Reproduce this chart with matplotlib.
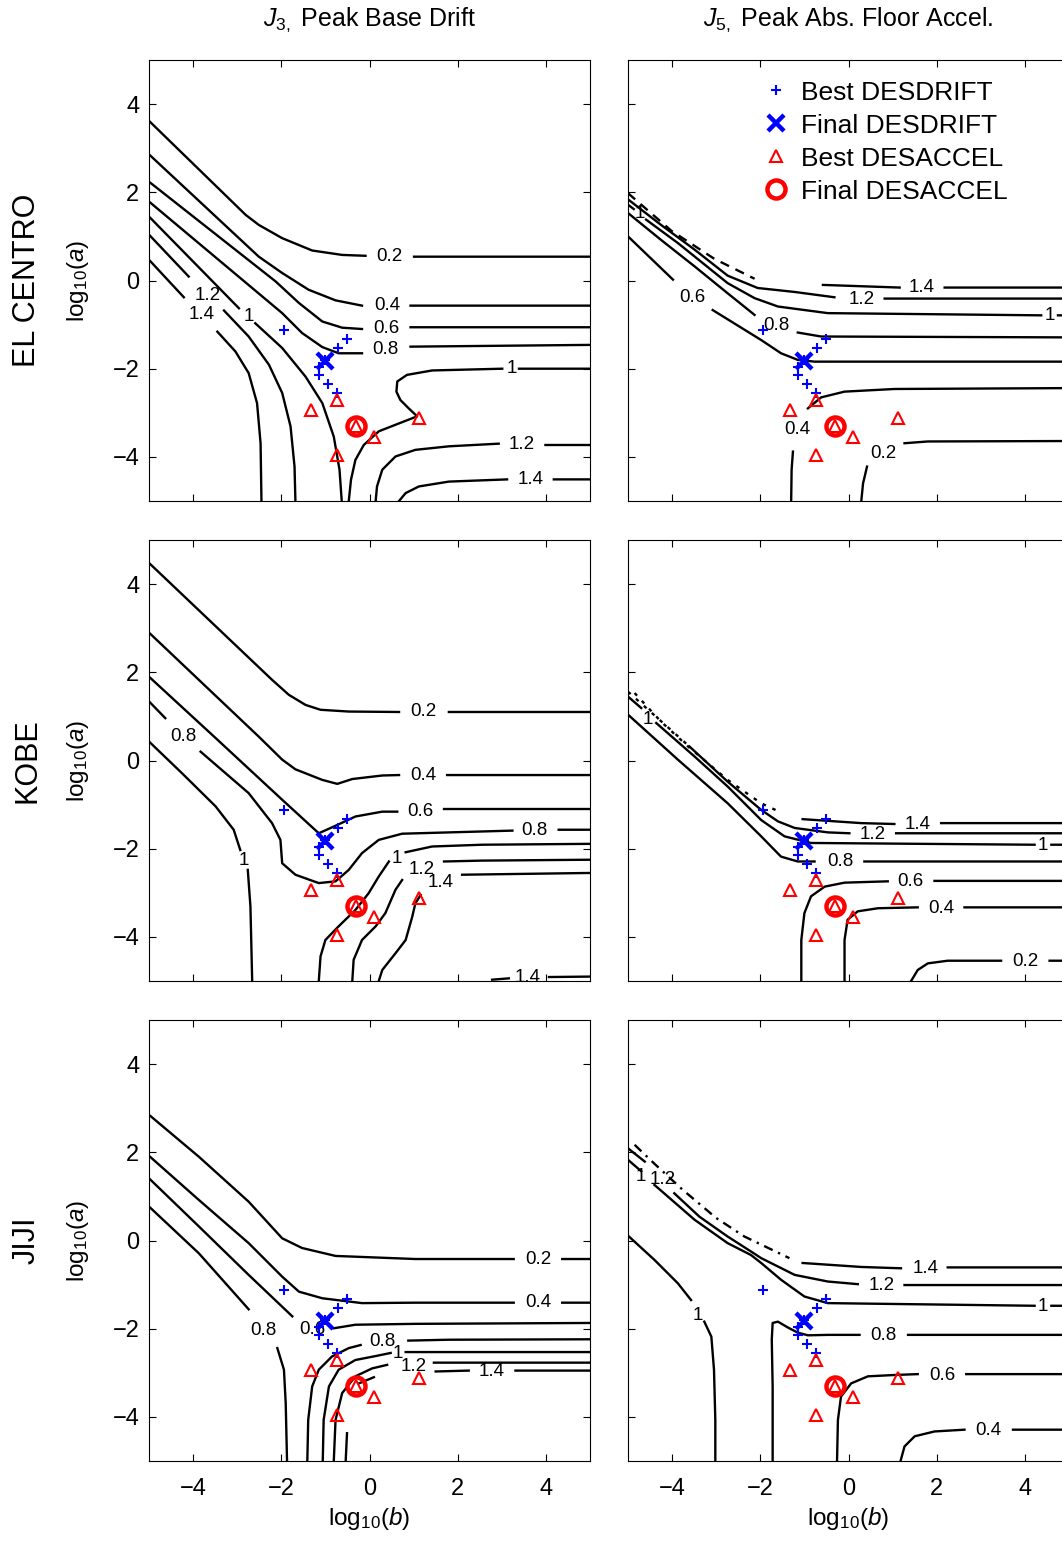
import numpy as np
import matplotlib
matplotlib.use("Agg")
import matplotlib.pyplot as plt

plt.rcParams['font.family'] = ['Liberation Sans', 'DejaVu Sans']
plt.rcParams['mathtext.fontset'] = 'custom'
plt.rcParams['mathtext.rm'] = 'Liberation Sans'
plt.rcParams['mathtext.it'] = 'Liberation Sans:italic'

nan = np.nan

# design points (log10 b, log10 a), same in every panel
best_drift_b = [-1.95, -0.52, -0.72, -1.00, -1.14, -1.14, -0.93, -0.73]
best_drift_a = [-1.12, -1.33, -1.52, -1.80, -1.97, -2.14, -2.35, -2.54]
final_drift_b = [-1.00]
final_drift_a = [-1.82]
best_accel_b = [-1.33, -0.73, -0.73, 0.11, 1.12, -0.30]
best_accel_a = [-2.93, -2.71, -3.95, -3.54, -3.12, -3.31]
final_accel_b = [-0.30]
final_accel_a = [-3.30]

# contour lines: (log10 b, log10 a), nan = gap for label
elcentro_j3_lines = [
    ([-5.00, -2.81, -2.51, -1.98, -1.30, -0.62, -0.09, nan, 1.01, 5.00],
     [3.62, 1.49, 1.26, 0.96, 0.68, 0.58, 0.56, nan, 0.54, 0.54]),
    ([-5.00, -2.51, -1.98, -1.38, -0.77, -0.17, nan, 0.93, 5.00],
     [2.86, 0.54, 0.17, -0.21, -0.45, -0.57, nan, -0.57, -0.57]),
    ([-5.00, -2.13, -1.60, -1.07, -0.62, -0.17, nan, 0.93, 5.00],
     [2.24, -0.02, -0.51, -0.93, -1.07, -1.10, nan, -1.06, -1.06]),
    ([-5.00, -1.98, -1.53, -1.07, -0.70, -0.17, nan, 0.93, 5.00],
     [1.79, -0.74, -1.19, -1.51, -1.65, -1.65, nan, -1.50, -1.46]),
    ([-5.00, -2.96, nan, -2.59, -1.98, -1.45, -1.07, -0.81, -0.68, -0.63],
     [1.45, -0.63, nan, -0.97, -1.53, -2.18, -2.78, -3.54, -4.29, -5.00]),
    ([-0.47, -0.42, -0.32, -0.13, 0.21, 0.67, 1.08, 0.89, 0.70, 0.61, 0.63, 0.85, 1.42, 3.01, nan, 3.39, 5.00],
     [-5.00, -4.52, -4.07, -3.73, -3.42, -3.24, -3.08, -2.90, -2.71, -2.52, -2.29, -2.14, -2.04, -2.00, nan, -2.00, -2.00]),
    ([-5.00, -4.10, nan, -3.30, -2.74, -2.28, -1.98, -1.79, -1.70, -1.68],
     [1.04, 0.09, nan, -0.68, -1.27, -1.91, -2.55, -3.31, -4.22, -5.00]),
    ([-5.00, -4.21, nan, -3.45, -3.04, -2.74, -2.55, -2.47, -2.45],
     [0.47, -0.38, nan, -1.16, -1.61, -2.10, -2.78, -3.69, -5.00]),
    ([0.14, 0.17, 0.29, 0.59, 1.04, 1.80, 2.93, nan, 3.99, 5.00],
     [-5.00, -4.67, -4.29, -3.99, -3.84, -3.76, -3.70, nan, -3.73, -3.73]),
    ([0.67, 0.82, 1.12, 1.80, 3.12, nan, 4.18, 5.00],
     [-5.00, -4.82, -4.67, -4.56, -4.51, nan, -4.51, -4.51]),
]
elcentro_j3_broken = []
elcentro_j3_labels = [("0.2", 0.45, 0.54), ("0.4", 0.40, -0.57), ("0.6", 0.38, -1.08),
                      ("0.8", 0.36, -1.57), ("1", -2.74, -0.82), ("1", 3.22, -2.00),
                      ("1.2", -3.68, -0.33), ("1.4", -3.81, -0.78), ("1.2", 3.46, -3.73),
                      ("1.4", 3.65, -4.52)]

elcentro_j5_lines = [
    ([-0.58, 1.16, nan, 2.18, 5.00], [-0.10, -0.16, nan, -0.16, -0.16]),
    ([-5.00, -4.25, -3.49, -2.74, -2.06, -1.22, -0.32, nan, 0.82, 5.00],
     [1.84, 1.26, 0.70, 0.11, -0.17, -0.26, -0.38, nan, -0.41, -0.41]),
    ([-5.00, -4.87, nan, -4.59, -3.87, -2.74, -2.13, -1.60, -0.47, 4.37, nan, 4.75, 5.00],
     [1.72, 1.62, nan, 1.38, 0.85, -0.06, -0.40, -0.59, -0.74, -0.79, nan, -0.79, -0.79]),
    ([-5.00, -4.25, -3.49, -2.74, -2.13, nan, -1.15, -0.62, 5.00],
     [1.53, 0.92, 0.32, -0.29, -0.78, nan, -1.18, -1.27, -1.29]),
    ([-5.00, -3.98, nan, -3.08, -2.74, -1.98, -1.53, -1.15, -0.77, 5.00],
     [1.00, 0.02, nan, -0.67, -0.88, -1.35, -1.65, -1.80, -1.84, -1.84]),
    ([-1.30, -1.29, -1.26, nan, -0.92, -0.62, -0.09, 1.04, 5.00],
     [-5.00, -4.29, -3.88, nan, -2.90, -2.65, -2.52, -2.46, -2.44]),
    ([0.29, 0.33, 0.42, nan, 1.27, 1.80, 5.00],
     [-5.00, -4.60, -4.22, nan, -3.69, -3.65, -3.64]),
]
elcentro_j5_broken = [
    ([-5.00, -4.02, -3.04, -2.13], [1.98, 1.13, 0.49, 0.04]),
]
elcentro_j5_labels = [("1.4", 1.66, -0.16), ("1.2", 0.29, -0.42), ("1", -4.74, 1.51),
                      ("1", 4.56, -0.79), ("0.8", -1.64, -1.02), ("0.6", -3.53, -0.38),
                      ("0.4", -1.15, -3.39), ("0.2", 0.78, -3.92)]

kobe_j3_lines = [
    ([-5.00, -2.21, -1.83, -1.45, -1.11, -0.47, 0.67, nan, 1.80, 5.00],
     [4.48, 1.83, 1.49, 1.26, 1.15, 1.11, 1.10, nan, 1.10, 1.10]),
    ([-5.00, -2.51, -1.98, -1.68, -1.07, -0.73, -0.39, 0.29, 0.67, nan, 1.76, 5.00],
     [2.90, 0.54, 0.02, -0.20, -0.44, -0.53, -0.42, -0.34, -0.33, nan, -0.33, -0.33]),
    ([-5.00, -3.49, -1.98, -1.15, -0.77, -0.32, 0.29, 0.63, nan, 1.69, 5.00],
     [1.90, 0.51, -0.89, -1.65, -1.48, -1.27, -1.16, -1.16, nan, -1.10, -1.10]),
    ([-5.00, -4.63, nan, -3.83, -2.74, -2.21, -2.02, -1.98, -1.68, -1.15, -0.77, -0.47, -0.17, 0.21, 0.74, 3.24, nan, 4.29, 5.00],
     [1.34, 0.96, nan, 0.20, -0.74, -1.42, -1.80, -2.33, -2.59, -2.78, -2.74, -2.48, -2.10, -1.80, -1.66, -1.59, nan, -1.57, -1.57]),
    ([-5.00, -4.25, -3.49, -3.08, -2.93, nan, -2.76, -2.70, -2.66],
     [0.43, -0.29, -1.04, -1.57, -2.03, nan, -2.48, -3.31, -5.00]),
    ([-1.15, -1.11, -1.00, -0.70, -0.32, -0.02, 0.21, 0.44, nan, 0.82, 1.42, 2.55, 5.00],
     [-5.00, -4.44, -4.07, -3.76, -3.39, -3.01, -2.63, -2.29, nan, -2.08, -1.95, -1.91, -1.89]),
    ([-0.39, -0.36, -0.17, 0.14, 0.36, 0.59, 0.74, nan, 1.69, 2.55, 5.00],
     [-5.00, -4.52, -4.07, -3.76, -3.46, -2.93, -2.71, nan, -2.29, -2.27, -2.25]),
    ([0.21, 0.29, 0.59, 0.82, 0.97, 1.04, 1.16, nan, 2.10, 5.00],
     [-5.00, -4.75, -4.37, -4.07, -3.54, -3.24, -3.05, nan, -2.59, -2.55]),
    ([2.78, 3.16, nan, 4.07, 5.00], [-4.97, -4.94, nan, -4.91, -4.90]),
]
kobe_j3_broken = []
kobe_j3_labels = [("0.2", 1.23, 1.10), ("0.4", 1.22, -0.33), ("0.6", 1.16, -1.16),
                  ("0.8", -4.21, 0.54), ("0.8", 3.75, -1.59), ("1", -2.85, -2.27),
                  ("1", 0.63, -2.23), ("1.2", 1.19, -2.48), ("1.4", 1.61, -2.76),
                  ("1.4", 3.58, -4.91)]

kobe_j5_lines = [
    ([-1.04, 0.29, 1.04, nan, 2.10, 5.00], [-1.33, -1.42, -1.44, nan, -1.42, -1.42]),
    ([-3.61, -2.74, -1.98, -1.60, -1.22, -0.47, 0.02, nan, 1.08, 5.00],
     [0.32, -0.48, -1.12, -1.38, -1.53, -1.63, -1.65, nan, -1.65, -1.65]),
    ([-5.00, -4.70, nan, -4.36, -3.49, -2.74, -1.98, -1.45, -0.85, 4.22, nan, 4.60, 5.00],
     [1.45, 1.19, nan, 0.85, 0.09, -0.59, -1.35, -1.72, -1.87, -1.91, nan, -1.91, -1.91]),
    ([-5.00, -3.87, -2.74, -1.98, -1.53, -1.15, -0.77, nan, 0.36, 5.00],
     [1.04, 0.02, -0.97, -1.72, -2.18, -2.29, -2.29, nan, -2.29, -2.29]),
    ([-1.07, -1.07, -1.00, -0.85, -0.54, -0.09, 0.89, nan, 1.95, 5.00],
     [-5.00, -4.07, -3.46, -3.08, -2.86, -2.77, -2.74, nan, -2.73, -2.73]),
    ([-0.09, -0.09, -0.02, 0.21, 0.67, 1.57, nan, 2.63, 5.00],
     [-5.00, -4.07, -3.61, -3.42, -3.35, -3.33, nan, -3.33, -3.33]),
    ([1.42, 1.57, 1.80, 2.25, 3.46, nan, 4.56, 5.00],
     [-5.00, -4.75, -4.60, -4.54, -4.54, nan, -4.54, -4.54]),
]
kobe_j5_broken = [
    ([-4.85, -4.25, -3.64, -2.74, -1.98, -1.53], [1.53, 0.88, 0.32, -0.44, -0.97, -1.18]),
    ([-5.00, -3.61], [1.56, 0.32]),
]
kobe_j5_labels = [("1.4", 1.57, -1.46), ("1.2", 0.55, -1.67), ("1", -4.55, 0.94),
                  ("1", 4.41, -1.93), ("0.8", -0.18, -2.29), ("0.6", 1.41, -2.74),
                  ("0.4", 2.10, -3.35), ("0.2", 4.01, -4.56)]

jiji_j3_lines = [
    ([-5.00, -3.87, -2.74, -1.98, -1.53, -0.77, 1.04, 3.27, nan, 4.37, 5.00],
     [2.85, 1.90, 0.88, 0.05, -0.17, -0.35, -0.42, -0.42, nan, -0.42, -0.42]),
    ([-5.00, -3.87, -2.74, -1.98, -1.60, -1.07, -0.17, 1.04, 3.27, nan, 4.37, 5.00],
     [1.92, 0.92, -0.06, -0.82, -1.16, -1.31, -1.42, -1.41, -1.41, nan, -1.41, -1.41]),
    ([-5.00, -3.87, -2.74, -1.75, nan, -0.81, -0.32, 1.04, 5.00],
     [1.41, 0.32, -0.78, -1.72, nan, -1.99, -1.91, -1.89, -1.87]),
    ([-5.00, -3.87, -2.74, nan, -2.09, -1.94, -1.90, -1.87],
     [0.77, -0.29, -1.56, nan, -2.44, -2.93, -3.69, -5.00]),
    ([-1.41, -1.39, -1.30, -1.15, -0.85, -0.47, -0.20, nan, 0.88, 1.80, 5.00],
     [-5.00, -4.07, -3.31, -2.93, -2.63, -2.44, -2.37, nan, -2.27, -2.25, -2.24]),
    ([-1.06, -1.04, -0.92, -0.70, -0.32, 0.14, 0.48, nan, 0.82, 1.80, 5.00],
     [-5.00, -4.07, -3.31, -2.93, -2.71, -2.62, -2.55, nan, -2.53, -2.53, -2.53]),
    ([-0.81, -0.77, -0.62, -0.32, 0.06, 0.40, nan, 1.46, 5.00],
     [-5.00, -4.07, -3.46, -3.08, -2.90, -2.82, nan, -2.77, -2.77]),
    ([-0.54, -0.51, nan, -0.24, 0.10, nan, 1.50, 2.25, nan, 3.31, 5.00],
     [-5.00, -4.37, nan, -3.24, -3.10, nan, -2.97, -2.95, nan, -2.95, -2.95]),
]
jiji_j3_broken = []
jiji_j3_labels = [("0.2", 3.84, -0.44), ("0.4", 3.82, -1.41), ("0.6", -1.30, -2.01),
                  ("0.8", -2.40, -2.03), ("0.8", 0.30, -2.30), ("1", 0.64, -2.57),
                  ("1.2", 1.00, -2.86), ("1.4", 2.78, -2.97)]

jiji_j5_lines = [
    ([-1.04, 0.29, 1.19, nan, 2.25, 5.00], [-0.51, -0.60, -0.63, nan, -0.61, -0.61]),
    ([-5.00, -4.62, nan, -3.95, -3.38, -2.74, -2.21, -1.98, -1.22, -0.47, 0.21, nan, 1.27, 5.00],
     [2.09, 1.79, nan, 1.07, 0.54, 0.09, -0.25, -0.40, -0.78, -0.93, -0.99, nan, -1.01, -1.01]),
    ([-5.00, -4.70, nan, -4.40, -3.49, -2.74, -2.21, -1.98, -1.53, -1.00, -0.47, 4.22, nan, 4.60, 5.00],
     [1.83, 1.57, nan, 1.26, 0.47, -0.06, -0.33, -0.51, -0.89, -1.27, -1.42, -1.48, nan, -1.48, -1.48]),
    ([-5.00, -4.40, -3.87, -3.57, nan, -3.27, -3.11, -3.05, -3.02, -3.02],
     [0.11, -0.44, -0.97, -1.35, nan, -1.84, -2.18, -2.93, -4.07, -5.00]),
    ([-1.72, -1.72, -1.74, -1.72, -1.60, -1.38, -1.15, -0.92, -0.47, 0.25, nan, 1.35, 5.00],
     [-5.00, -3.31, -2.25, -1.87, -1.84, -1.97, -2.09, -2.15, -2.14, -2.14, nan, -2.14, -2.14]),
    ([-0.26, -0.24, -0.17, 0.06, 0.44, 1.04, 1.57, nan, 2.67, 5.00],
     [-5.00, -4.07, -3.54, -3.24, -3.08, -3.05, -3.03, nan, -3.03, -3.03]),
    ([1.18, 1.27, 1.50, 1.95, 2.63, nan, 3.73, 5.00],
     [-5.00, -4.67, -4.44, -4.33, -4.29, nan, -4.29, -4.29]),
]
jiji_j5_broken = [
    ([-4.85, -4.40, -3.76, -3.00, -2.36, -1.34], [2.17, 1.74, 1.15, 0.51, 0.09, -0.40]),
]
jiji_j5_labels = [("1.4", 1.75, -0.63), ("1.2", 0.76, -1.02), ("1.2", -4.22, 1.39),
                  ("1", -4.70, 1.45), ("1", 4.41, -1.50), ("1", -3.42, -1.69),
                  ("0.8", 0.79, -2.15), ("0.6", 2.12, -3.05), ("0.4", 3.18, -4.31)]

row_names = ["EL CENTRO", "KOBE", "JIJI"]
col_titles = [r"$J_{\mathit{3,}}$ Peak Base Drift", r"$J_{\mathit{5,}}$ Peak Abs. Floor Accel."]
ticks = [-4, -2, 0, 2, 4]

panels = [
    [(elcentro_j3_lines, elcentro_j3_broken, '-', elcentro_j3_labels),
     (elcentro_j5_lines, elcentro_j5_broken, (0, (4, 3)), elcentro_j5_labels)],
    [(kobe_j3_lines, kobe_j3_broken, '-', kobe_j3_labels),
     (kobe_j5_lines, kobe_j5_broken, (0, (1.5, 3)), kobe_j5_labels)],
    [(jiji_j3_lines, jiji_j3_broken, '-', jiji_j3_labels),
     (jiji_j5_lines, jiji_j5_broken, (0, (4, 2.5, 1, 2.5)), jiji_j5_labels)],
]

W, H = 1062, 1543
fig = plt.figure(figsize=(W / 100, H / 100), dpi=100)

col_x = [149, 628]
row_y = [60, 540, 1020]
size = 441

for r in range(3):
    for c in range(2):
        lines, broken, bstyle, labels = panels[r][c]
        ax = fig.add_axes([col_x[c] / W, 1 - (row_y[r] + size) / H, size / W, size / H])
        for b, a in lines:
            ax.plot(b, a, color='k', lw=1.7)
        for b, a in broken:
            ax.plot(b, a, color='k', lw=1.7, ls=bstyle)
        for txt, b, a in labels:
            ax.text(b, a, txt, ha='center', va='center', fontsize=13.5, clip_on=True)

        ax.plot(best_drift_b, best_drift_a, ls='none', marker='+', color='b',
                ms=7.5, mew=1.5, label='Best DESDRIFT', zorder=5)
        ax.plot(final_drift_b, final_drift_a, ls='none', marker='x', color='b',
                ms=12, mew=3.2, label='Final DESDRIFT', zorder=6)
        ax.plot(best_accel_b, best_accel_a, ls='none', marker='^', color='r', mfc='none',
                ms=9, mew=1.5, label='Best DESACCEL', zorder=5)
        ax.plot(final_accel_b, final_accel_a, ls='none', marker='o', color='r', mfc='none',
                ms=13, mew=3.2, label='Final DESACCEL', zorder=6)

        ax.set_xlim(-5, 5)
        ax.set_ylim(-5, 5)
        ax.set_xticks(ticks)
        ax.set_yticks(ticks)
        ax.tick_params(direction='in', top=True, right=True, length=5, width=0.8,
                       labelsize=17, pad=7)
        ax.tick_params(axis='x', pad=12)
        if r < 2:
            ax.set_xticklabels([])
        if c == 1:
            ax.set_yticklabels([])
        for s in ax.spines.values():
            s.set_linewidth(0.8)

        if r == 0 and c == 1:
            ax.legend(loc='upper left', bbox_to_anchor=(0.305, 0.953), frameon=False,
                      fontsize=19, handlelength=1.0, handletextpad=0.45, borderpad=0,
                      borderaxespad=0, labelspacing=0.34, numpoints=1)

    cy = 1 - (row_y[r] + size / 2) / H
    fig.text(78 / W, cy, r"log$_{10}$($a$)", rotation=90, ha='center', va='center', fontsize=17.5)
    fig.text(27 / W, cy, row_names[r], rotation=90, ha='center', va='center', fontsize=22)

for c in range(2):
    cx = (col_x[c] + size / 2) / W
    fig.text(cx, 1 - 20 / H, col_titles[c], ha='center', va='center', fontsize=18)
    fig.text(cx, 1 - 1518 / H, r"log$_{10}$($b$)", ha='center', va='center', fontsize=17.5)

fig.savefig("out.png", dpi=100)
